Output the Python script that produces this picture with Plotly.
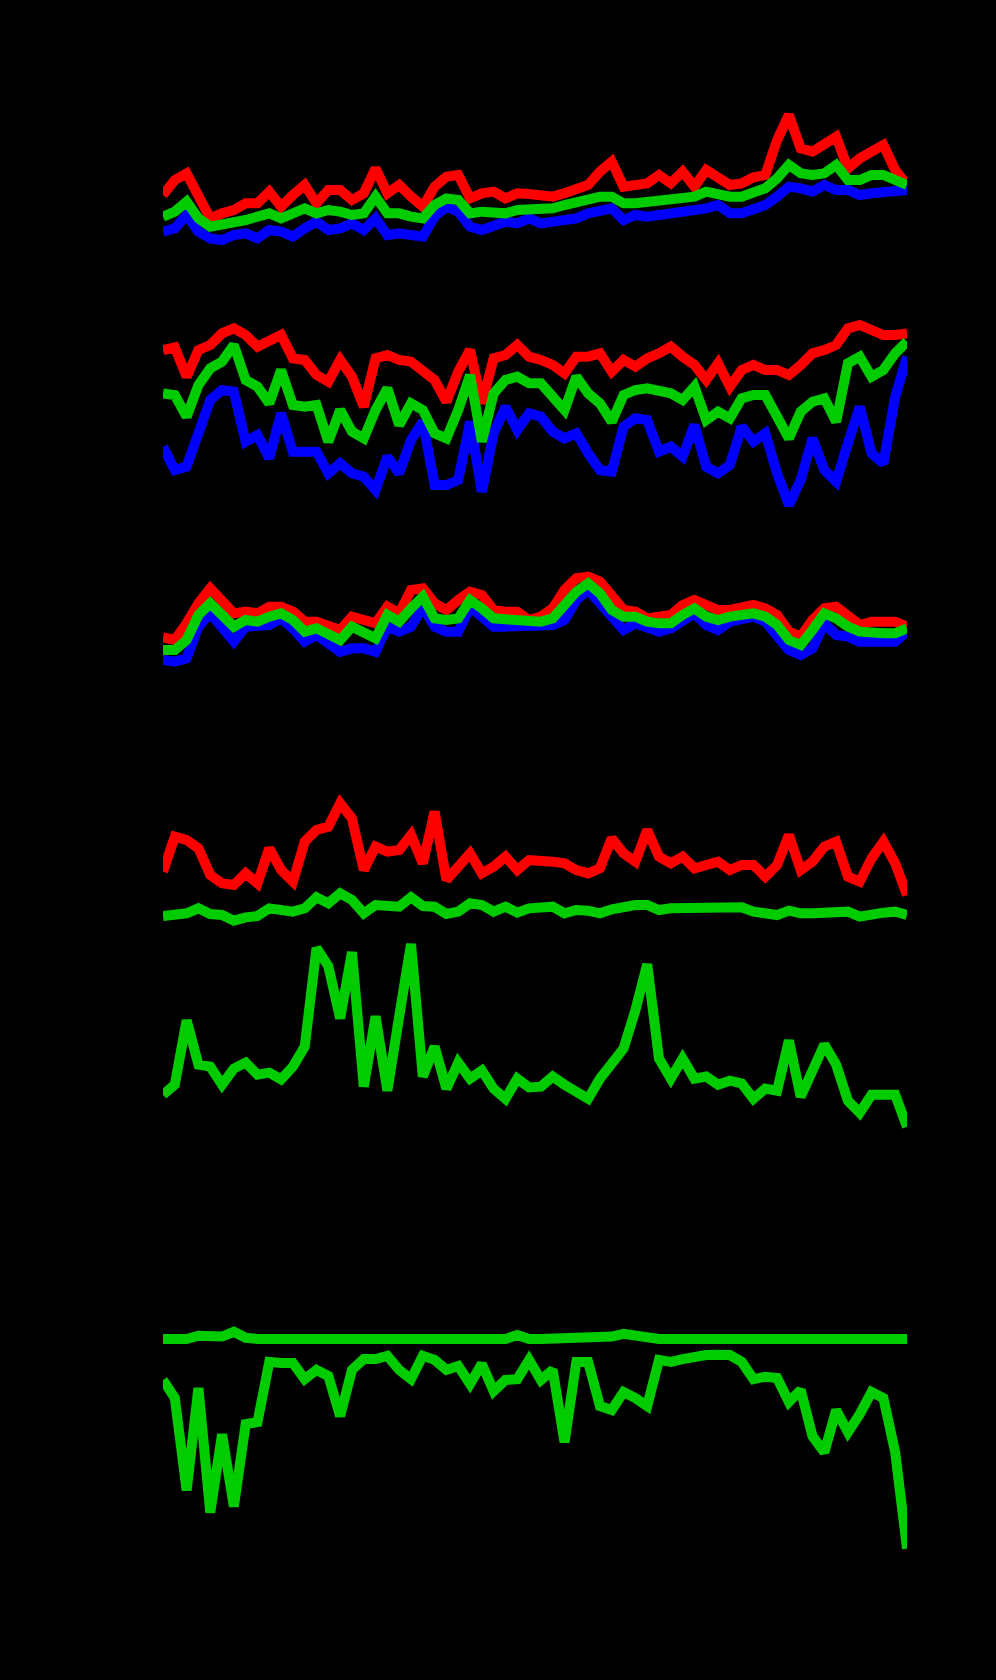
import plotly.graph_objects as go

# ---- data (64 samples per series) ----
idx = list(range(64))

# Panel 1 (three series)
p1_red = [18.5, 23.0, 25.0, 18.0, 11.5, 13.0, 14.0, 16.0, 16.0, 19.5, 15.0, 18.5, 21.5, 16.0, 20.0, 20.0,
          17.0, 19.0, 26.5, 19.0, 21.5, 18.0, 15.0, 21.0, 24.0, 24.5, 17.5, 19.0, 19.5, 17.5, 19.0, 18.8,
          18.5, 18.0, 19.0, 20.0, 21.5, 25.5, 28.5, 21.0, 21.5, 22.0, 24.5, 22.0, 25.5, 21.0, 26.0, 23.5,
          21.5, 22.0, 23.8, 24.5, 35.0, 42.5, 32.5, 31.5, 34.0, 36.0, 26.5, 29.5, 31.5, 33.5, 26.0, 21.5]
p1_green = [12.0, 13.5, 16.5, 11.5, 9.0, 9.5, 10.0, 11.0, 12.0, 13.0, 11.5, 13.0, 14.5, 13.0, 14.0, 13.5,
            12.5, 13.0, 18.0, 13.0, 13.0, 12.0, 11.5, 15.5, 17.5, 17.0, 13.0, 13.5, 13.5, 13.0, 14.0, 14.0,
            14.0, 14.5, 15.5, 16.5, 17.5, 18.0, 18.0, 16.0, 16.0, 16.5, 17.0, 17.5, 18.0, 18.0, 19.5, 18.5,
            18.0, 18.0, 19.0, 20.5, 23.5, 27.5, 25.0, 24.5, 25.0, 27.5, 23.0, 23.0, 24.5, 24.5, 23.0, 21.5]
p1_blue = [7.5, 8.5, 12.5, 7.5, 5.5, 5.0, 6.5, 7.0, 5.5, 8.0, 7.5, 6.0, 8.5, 10.5, 8.0, 8.5,
           10.0, 8.0, 11.5, 6.5, 7.0, 6.5, 6.0, 12.0, 15.0, 13.5, 9.0, 8.0, 9.0, 10.5, 10.0, 11.5,
           10.0, 10.5, 10.5, 11.5, 13.0, 14.0, 14.5, 11.0, 12.5, 12.0, 12.5, 12.5, 13.0, 13.5, 14.5, 15.5,
           13.0, 13.0, 14.0, 15.5, 18.0, 21.0, 20.5, 19.5, 21.5, 20.0, 20.0, 18.5, 19.0, 19.5, 20.0, 20.0]

# Panel 2 (three series)
p2_red = [48.0, 48.8, 40.0, 48.0, 49.5, 53.0, 54.5, 52.5, 49.0, 50.5, 52.5, 45.5, 45.0, 40.5, 38.5, 45.0,
          40.0, 31.0, 45.5, 46.5, 45.0, 44.5, 41.5, 39.0, 32.5, 41.5, 48.0, 32.0, 45.5, 46.5, 49.5, 46.0,
          45.0, 43.5, 41.0, 46.0, 46.0, 47.0, 41.5, 45.0, 43.0, 45.5, 47.0, 49.0, 46.0, 43.5, 39.0, 44.0,
          37.0, 42.0, 43.5, 42.0, 42.0, 40.5, 43.5, 47.0, 48.0, 49.5, 54.5, 55.5, 54.0, 52.5, 52.5, 53.0]
p2_green = [35.0, 34.5, 28.0, 37.5, 42.5, 44.5, 49.5, 39.0, 37.0, 32.0, 42.0, 31.5, 31.0, 31.5, 20.5, 30.0,
            23.5, 21.5, 30.0, 36.5, 25.5, 32.0, 30.0, 23.0, 21.5, 30.0, 40.5, 20.5, 35.0, 39.0, 40.0, 38.0,
            38.0, 34.0, 30.0, 40.0, 35.0, 32.0, 26.5, 34.5, 36.0, 36.5, 36.0, 35.0, 33.0, 37.0, 27.0, 29.5,
            27.5, 33.5, 34.5, 34.5, 28.0, 21.5, 29.5, 32.5, 33.5, 26.5, 44.0, 46.0, 40.0, 42.0, 47.0, 50.5]
p2_blue = [19.0, 12.0, 13.0, 24.0, 33.0, 36.0, 35.5, 20.5, 22.5, 15.5, 29.0, 17.5, 17.5, 17.5, 11.0, 14.0,
           11.0, 10.0, 6.0, 16.0, 11.0, 21.0, 26.5, 7.5, 7.5, 9.0, 26.5, 5.5, 23.0, 31.0, 24.0, 29.0,
           28.0, 23.5, 21.5, 23.0, 17.0, 12.0, 11.5, 25.0, 27.5, 27.0, 17.5, 19.0, 16.0, 25.5, 13.0, 11.0,
           13.5, 25.0, 20.5, 23.0, 11.0, 1.5, 9.0, 21.5, 12.0, 8.5, 20.0, 31.0, 17.0, 14.0, 34.0, 46.0]

# Panel 3 (three series)
p3_red = [11.8, 11.0, 16.0, 22.0, 26.5, 23.0, 19.0, 19.5, 19.0, 21.0, 21.0, 19.5, 16.5, 16.5, 15.5, 14.0,
          18.0, 17.0, 16.0, 21.0, 19.0, 26.0, 26.5, 22.0, 20.0, 23.0, 25.5, 24.5, 20.0, 19.5, 19.5, 17.0,
          18.0, 20.5, 26.0, 29.5, 30.0, 28.5, 24.5, 20.0, 19.5, 17.5, 18.0, 18.5, 21.5, 23.0, 21.5, 20.0,
          20.0, 20.5, 21.5, 20.5, 18.5, 13.5, 12.0, 17.0, 20.5, 21.0, 18.5, 15.5, 16.5, 16.5, 16.5, 15.0]
p3_green = [8.0, 8.0, 11.0, 18.5, 22.0, 18.5, 15.0, 17.0, 16.5, 18.0, 19.0, 17.0, 13.5, 14.5, 12.5, 11.0,
            15.0, 13.5, 11.5, 18.5, 16.5, 20.5, 24.0, 17.5, 17.0, 17.5, 23.0, 20.5, 17.5, 17.2, 17.2, 16.5,
            16.5, 17.5, 22.0, 25.5, 28.0, 25.0, 20.0, 18.0, 18.0, 16.5, 16.0, 16.0, 18.5, 20.5, 18.0, 17.0,
            18.0, 18.5, 19.0, 18.0, 15.5, 11.0, 9.5, 14.0, 19.0, 17.5, 15.0, 13.5, 13.0, 13.0, 13.0, 14.5]
p3_blue = [5.0, 4.5, 5.5, 15.0, 19.0, 14.5, 10.5, 15.0, 15.0, 15.5, 17.5, 14.5, 10.5, 12.5, 10.0, 7.5,
           8.5, 8.5, 7.5, 15.0, 13.5, 15.0, 21.0, 15.0, 13.5, 13.5, 21.0, 18.0, 15.0, 15.0, 15.0, 15.0,
           15.0, 15.5, 17.0, 23.0, 26.0, 22.0, 17.0, 14.0, 16.0, 14.5, 13.5, 14.5, 17.0, 19.0, 15.5, 14.0,
           16.5, 17.0, 18.0, 16.5, 12.0, 8.0, 6.5, 8.5, 16.0, 12.5, 12.0, 10.5, 10.5, 10.5, 10.5, 13.5]

# Panel 4 (two series)
p4_red = [16.5, 27.0, 26.0, 23.5, 15.5, 13.0, 12.5, 16.0, 13.0, 23.5, 17.0, 13.5, 25.5, 29.0, 30.0, 37.0,
          32.5, 17.0, 24.0, 22.5, 23.0, 27.5, 19.0, 34.5, 14.0, 17.5, 22.0, 16.0, 18.0, 21.0, 17.0, 20.0,
          20.0, 19.5, 19.0, 17.0, 16.0, 17.5, 26.5, 22.0, 19.5, 29.0, 21.0, 19.0, 21.0, 17.5, 18.5, 19.5,
          17.0, 18.5, 18.5, 15.0, 18.5, 27.5, 17.0, 19.5, 24.0, 25.5, 15.0, 13.5, 20.5, 25.5, 19.0, 9.5]
p4_green = [3.2, 3.5, 4.0, 5.5, 3.8, 3.5, 1.8, 2.8, 3.2, 5.5, 4.8, 4.5, 5.5, 8.8, 7.0, 10.0,
            8.0, 4.0, 6.5, 6.2, 6.0, 8.8, 6.2, 6.0, 3.8, 4.5, 7.0, 6.5, 4.5, 6.0, 4.2, 5.5,
            5.5, 6.0, 4.0, 5.0, 4.8, 4.0, 5.2, 6.0, 6.5, 6.5, 5.0, 5.5, 5.5, 5.5, 5.5, 6.0,
            6.0, 5.8, 4.5, 4.0, 3.5, 4.8, 4.0, 4.0, 4.2, 4.0, 4.5, 3.0, 3.8, 4.2, 4.5, 3.5]

# Panel 5 (one series)
p5_green = [9.0, 11.5, 27.5, 16.5, 16.0, 11.5, 15.5, 17.0, 14.0, 14.5, 12.8, 16.0, 21.0, 45.5, 41.0, 28.0,
            44.5, 11.0, 28.5, 10.0, 28.5, 46.5, 13.5, 21.0, 10.5, 17.0, 13.0, 15.0, 10.5, 8.0, 13.0, 10.8,
            11.0, 13.5, 11.5, 10.0, 8.0, 13.0, 16.5, 20.5, 30.0, 41.5, 18.0, 13.0, 18.0, 13.0, 13.5, 11.5,
            12.5, 11.8, 8.0, 10.5, 10.0, 22.5, 8.5, 15.5, 21.5, 16.5, 7.5, 4.5, 9.0, 9.0, 9.0, 1.0]

# Panel 6 (two series)
p6_flat = [58.2, 58.2, 58.2, 59.0, 58.8, 58.8, 60.0, 58.5, 58.2, 58.2, 58.2, 58.2, 58.2, 58.2, 58.2, 58.2,
           58.2, 58.2, 58.2, 58.2, 58.2, 58.2, 58.2, 58.2, 58.2, 58.2, 58.2, 58.2, 58.2, 58.2, 59.2, 58.2,
           58.2, 58.2, 58.2, 58.2, 58.2, 58.2, 58.8, 59.5, 59.0, 58.2, 58.2, 58.2, 58.2, 58.2, 58.2, 58.2,
           58.2, 58.2, 58.2, 58.2, 58.2, 58.2, 58.2, 58.2, 58.2, 58.2, 58.2, 58.2, 58.2, 58.2, 58.2, 58.2]
p6_low = [48.0, 43.5, 20.5, 46.0, 15.0, 34.5, 16.5, 37.0, 37.5, 52.5, 52.2, 52.2, 48.2, 50.5, 49.0, 39.0,
          50.5, 53.2, 53.2, 54.0, 50.5, 48.2, 54.0, 53.0, 50.5, 51.5, 47.0, 52.0, 45.2, 48.0, 48.2, 53.0,
          48.0, 50.5, 32.5, 52.5, 52.5, 41.5, 40.5, 45.0, 43.5, 41.5, 53.0, 52.5, 53.2, 53.8, 54.2, 54.3,
          54.2, 52.5, 48.2, 48.8, 48.5, 42.5, 45.5, 34.0, 30.0, 40.5, 35.0, 39.5, 45.0, 43.5, 30.0, 6.0]

RED, GREEN, BLUE = "#ff0000", "#00cc00", "#0000ff"
LW = 10
H = 1680

# panel layout: (y range, pixel at range start, pixel at range end)
panels = {
    "y":  ([0, 46],  256.67, 256.67 - 3.3333 * 46),
    "y2": ([-3, 60], 510 + 3.3333 * 3, 510 - 3.3333 * 60),
    "y3": ([0, 33],  676.67, 676.67 - 3.3333 * 33),
    "y4": ([0, 40],  926.67, 926.67 - 3.3333 * 40),
    "y5": ([-1, 49], 1130.88 + 4.018, 1130.88 - 4.018 * 49),
    "y6": ([4, 62],  1572.83 - 4.018 * 4, 1572.83 - 4.018 * 62),
}

fig = go.Figure()

def add(series, color, yax):
    fig.add_trace(go.Scatter(x=idx, y=series, mode="lines", yaxis=yax, xaxis="x",
                             line=dict(color=color, width=LW), hoverinfo="skip",
                             showlegend=False))

for yax, (r, g, b) in [("y", (p1_red, p1_green, p1_blue)),
                       ("y2", (p2_red, p2_green, p2_blue)),
                       ("y3", (p3_red, p3_green, p3_blue))]:
    add(r, RED, yax)
    add(b, BLUE, yax)
    add(g, GREEN, yax)

add(p4_red, RED, "y4")
add(p4_green, GREEN, "y4")
add(p5_green, GREEN, "y5")
add(p6_flat, GREEN, "y6")
add(p6_low, GREEN, "y6")

layout = dict(
    width=996, height=H,
    margin=dict(l=163, r=89, t=0, b=0, pad=0),
    paper_bgcolor="black", plot_bgcolor="black",
    showlegend=False,
    xaxis=dict(range=[0, 63], visible=False, showgrid=False, zeroline=False),
)
for yax, (rng, px0, px1) in panels.items():
    name = "yaxis" if yax == "y" else "yaxis" + yax[1:]
    d0 = 1 - px0 / H
    d1 = 1 - px1 / H
    layout[name] = dict(range=rng, domain=[d0, d1], anchor="x", visible=False,
                        showgrid=False, zeroline=False)
fig.update_layout(**layout)

fig.write_html(
    "out.html",
    config={"displayModeBar": False},
    post_script="document.body.style.margin='0';document.body.style.background='black';",
)
